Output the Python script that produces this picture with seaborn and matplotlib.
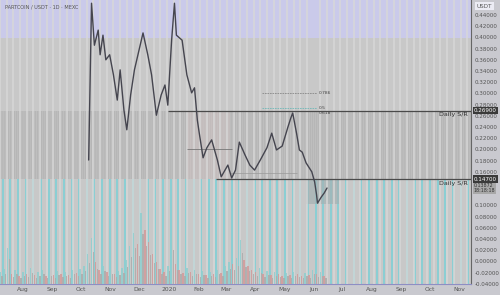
import pandas as pd
import matplotlib
matplotlib.use("Agg")
import matplotlib.pyplot as plt
import matplotlib.transforms as mtransforms
import seaborn as sns

# --- data ---
price_dates = [
    "2019-10-09", "2019-10-12", "2019-10-15", "2019-10-19", "2019-10-21", "2019-10-24",
    "2019-10-27", "2019-10-31", "2019-11-04", "2019-11-08", "2019-11-11", "2019-11-15",
    "2019-11-18", "2019-11-22", "2019-11-26", "2019-12-02", "2019-12-05", "2019-12-10",
    "2019-12-14", "2019-12-19", "2019-12-24", "2019-12-28", "2019-12-31", "2020-01-04",
    "2020-01-07", "2020-01-09", "2020-01-15", "2020-01-20", "2020-01-25", "2020-01-28",
    "2020-01-31", "2020-02-02", "2020-02-06", "2020-02-10", "2020-02-15", "2020-02-21",
    "2020-02-25", "2020-03-03", "2020-03-07", "2020-03-11", "2020-03-15", "2020-03-21",
    "2020-03-26", "2020-03-31", "2020-04-06", "2020-04-13", "2020-04-18", "2020-04-23",
    "2020-04-29", "2020-05-05", "2020-05-08", "2020-05-10", "2020-05-14", "2020-05-17",
    "2020-05-20", "2020-05-24", "2020-05-30", "2020-06-02", "2020-06-04", "2020-06-05",
    "2020-06-09", "2020-06-12", "2020-06-15",
]
price_close = [
    0.181, 0.461, 0.386, 0.413, 0.369, 0.404,
    0.360, 0.369, 0.333, 0.288, 0.342, 0.270,
    0.235, 0.297, 0.342, 0.386, 0.408, 0.369,
    0.333, 0.261, 0.297, 0.315, 0.279, 0.395,
    0.461, 0.404, 0.395, 0.333, 0.301, 0.310,
    0.252, 0.229, 0.185, 0.203, 0.217, 0.181,
    0.151, 0.172, 0.149, 0.163, 0.213, 0.190,
    0.172, 0.163, 0.181, 0.203, 0.229, 0.199,
    0.206, 0.240, 0.256, 0.265, 0.229, 0.199,
    0.195, 0.176, 0.160, 0.142, 0.119, 0.104,
    0.115, 0.122, 0.131,
]

# volume every 4 days from 2019-07-08 (arbitrary units)
volume_start = "2019-07-08"
volume = [
    12, 15, 36, 10, 14, 8, 12, 10, 16, 9, 12, 14, 8, 11, 9, 13, 10, 12, 9, 14,
    11, 15, 18, 30, 46, 22, 14, 18, 12, 15, 10, 13, 16, 24, 38, 51, 40, 71, 54, 42,
    30, 22, 15, 12, 18, 49, 20, 14, 11, 16, 12, 14, 10, 13, 9, 12, 10, 14, 11, 18,
    22, 20, 26, 44, 24, 18, 14, 12, 16, 10, 13, 9, 12, 10, 8, 11, 9, 12, 10, 8,
    11, 9, 14, 10, 12, 8,
]

sr_upper = 0.269
sr_lower = 0.147
fib_levels = [0.301, 0.274]
fib_names = ["0.786", "0.5", "0.618"]
fib_label_values = [0.301, 0.274, 0.265]
last_price = 0.13872
y_ticks = [round(-0.04 + 0.02 * i, 2) for i in range(25)]
hidden_ticks = [0.12, 0.14]   # covered by the price boxes on the scale

df = pd.DataFrame({"date": pd.to_datetime(price_dates), "close": price_close})
vol = pd.DataFrame({
    "date": pd.date_range(volume_start, periods=len(volume), freq="4D"),
    "volume": volume,
})
vol["rising"] = vol["volume"].diff().fillna(0) >= 0

# --- figure ---
sns.set_style("white")
plt.rcParams["font.family"] = ["DejaVu Sans"]
fig = plt.figure(figsize=(5, 2.95), dpi=100, facecolor="#c9c9cf")
ax = fig.add_axes([0, 11 / 295, 471 / 500, 284 / 295])
ax.set_facecolor("#c8c8c8")

x0, x1 = pd.Timestamp("2019-07-08"), pd.Timestamp("2020-11-13")
y0, y1 = -0.0404, 0.4668
ax.set_xlim(x0, x1)
ax.set_ylim(y0, y1)

# background zones
ax.axhspan(0.399, y1, color="#cacaea", zorder=0.2, lw=0)
ax.axhspan(sr_lower, sr_upper, facecolor="#b3b3b3", edgecolor="#bebebe",
           hatch="||||||||", lw=0, zorder=0.3)
ax.fill_between([pd.Timestamp("2020-01-20"), pd.Timestamp("2020-03-05")],
                sr_lower, sr_upper, color="#d2c4c4", alpha=0.45, lw=0, zorder=0.4)

# weekly stripes
stripe_days = pd.date_range(x0, x1, freq="7D")
ax.set_xticks(stripe_days, minor=True)
ax.tick_params(axis="x", which="minor", length=0)
ax.set_axisbelow(False)
ax.grid(which="minor", axis="x", color="#d8d8d8", lw=1.3, alpha=0.8)
ax.grid(which="major", visible=False)
teal_days = pd.date_range(x0 + pd.Timedelta(days=3), x1, freq="8D")
ax.vlines(teal_days, y0, sr_lower, color="#7fd0d6", lw=1.2, zorder=0.6)

# annotation lines / boxes
ax.hlines(sr_upper, pd.Timestamp("2019-12-31"), x1, color="#4a4a4a", lw=0.9, zorder=3)
ax.hlines(sr_lower, pd.Timestamp("2020-02-20"), x1, color="#4a4a4a", lw=0.9, zorder=3)
ax.hlines(0.201, pd.Timestamp("2020-01-20"), pd.Timestamp("2020-03-07"),
          color="#777777", lw=0.6, zorder=3)
ax.hlines(0.158, pd.Timestamp("2020-03-05"), pd.Timestamp("2020-05-14"),
          color="#9a9a9a", lw=0.5, zorder=3)
ax.hlines(fib_levels, pd.Timestamp("2020-04-08"), pd.Timestamp("2020-06-04"),
          colors=["#888888", "#6fb8b8"], lw=0.6, linestyles=(0, (2, 1)), zorder=3)
for name, v in zip(fib_names, fib_label_values):
    ax.text(pd.Timestamp("2020-06-06"), v, name, fontsize=3.2, color="#444444",
            va="center", ha="left", zorder=5)
ax.fill_between([pd.Timestamp("2020-05-24"), pd.Timestamp("2020-06-28")],
                0.102, sr_lower, color="#a4b2b4", alpha=0.7, lw=0, zorder=0.7)

# volume on its own scale
ax2 = ax.twinx()
ax2.set_ylim(0, 284)
ax2.patch.set_visible(False)
ax2.set_yticks([])
for s in ax2.spines.values():
    s.set_visible(False)
bar_colors = vol["rising"].map({True: "#8fcfcf", False: "#d39a9a"})
ax2.bar(vol["date"], vol["volume"], width=1.6, color=bar_colors, alpha=0.85,
        lw=0, zorder=1)
ax2.bar(vol["date"] + pd.Timedelta(days=2), vol["volume"] * 0.7, width=1.4,
        color="#adadad", alpha=0.9, lw=0, zorder=1)

# price
sns.lineplot(data=df, x="date", y="close", ax=ax, color="#45454f", lw=1.0, zorder=4)
ax.set_xlabel("")
ax.set_ylabel("")

# axes styling
ax.yaxis.tick_right()
ax.set_yticks(y_ticks)
ax.set_yticklabels(["" if v in hidden_ticks else
                    ("0.00000" if v == 0 else f"{v:.5f}") for v in y_ticks])
ax.tick_params(axis="y", which="major", labelsize=4.1, labelcolor="#555555",
               length=0, pad=2.5)
months = pd.date_range("2019-08-01", "2020-11-01", freq="MS")
ax.set_xticks(months)
ax.set_xticklabels(["2020" if m.month == 1 else m.strftime("%b") for m in months])
ax.tick_params(axis="x", which="major", labelsize=4.3, labelcolor="#555555",
               length=0, pad=2)
for side in ["left", "top"]:
    ax.spines[side].set_visible(False)
ax.spines["right"].set_color("#666666")
ax.spines["right"].set_linewidth(0.8)
ax.spines["bottom"].set_color("#8e8ec4")
ax.spines["bottom"].set_linewidth(0.8)

# texts
ax.text(5 / 471, 1 - 7 / 284, "PARTCOIN / USDT \u00b7 1D \u00b7 MEXC",
        transform=ax.transAxes, fontsize=3.6, color="#555555", va="center", ha="left")
trans = mtransforms.blended_transform_factory(ax.transAxes, ax.transData)
for v in (sr_upper, sr_lower):
    ax.text(468 / 471, v - 0.003, "Daily S/R", transform=trans, fontsize=4.6,
            color="#333333", ha="right", va="top", zorder=5)
    ax.text(1.006, v, f"{v:.5f}", transform=trans, fontsize=4.1, color="white",
            ha="left", va="center", clip_on=False,
            bbox=dict(boxstyle="square,pad=0.2", fc="#3a3a3a", ec="none"))
ax.text(1.006, last_price - 0.0085, f"{last_price:.5f}\n18:18:18", transform=trans,
        fontsize=3.4, color="#333333", ha="left", va="center", clip_on=False,
        linespacing=1.0,
        bbox=dict(boxstyle="square,pad=0.2", fc="#a8a8a8", ec="none"))
ax.text(1.012, 1 - 6 / 284, "USDT", transform=ax.transAxes, fontsize=4.1,
        color="#555555", ha="left", va="center", clip_on=False,
        bbox=dict(boxstyle="square,pad=0.3", fc="#ececf4", ec="none"))

fig.savefig("out.png", dpi=100, facecolor=fig.get_facecolor())
